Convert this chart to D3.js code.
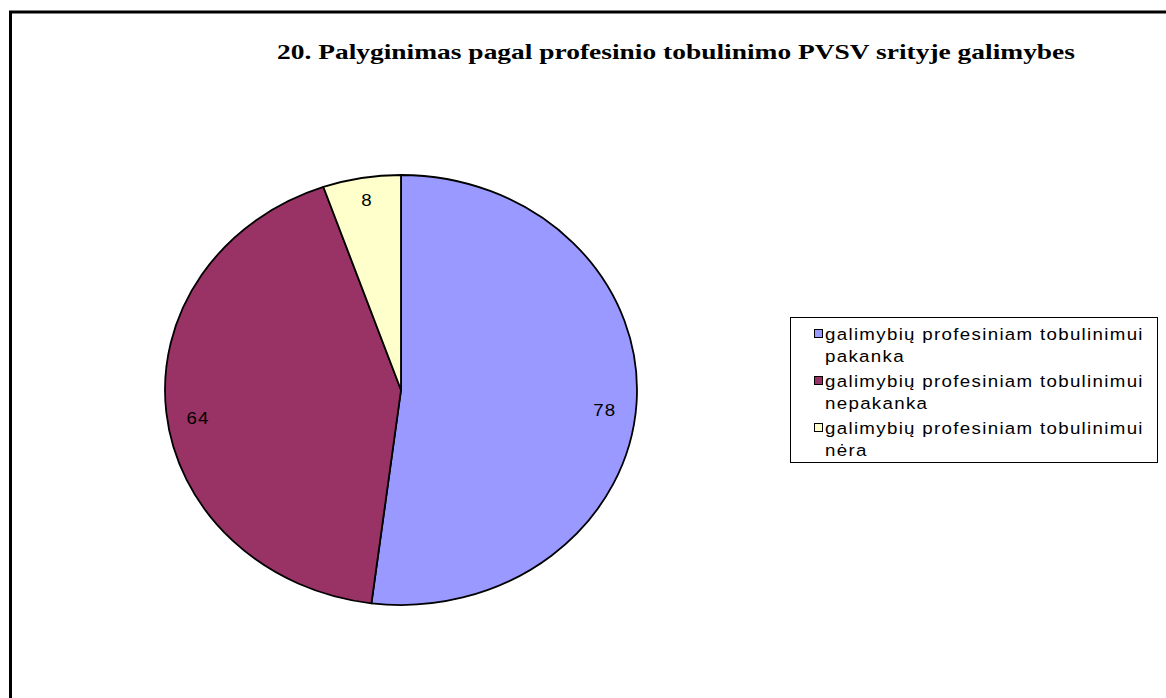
<!DOCTYPE html>
<html>
<head>
<meta charset="utf-8">
<script src="https://d3js.org/d3.v7.min.js"></script>
<style>
  html, body { margin: 0; padding: 0; background: #fff; }
  svg { display: block; }
</style>
</head>
<body>
<div id="chart"></div>
<script>
// chart data
const title = '20. Palyginimas pagal profesinio tobulinimo PVSV srityje galimybes';
const categories = [
    'galimybių profesiniam tobulinimui pakanka',
    'galimybių profesiniam tobulinimui nepakanka',
    'galimybių profesiniam tobulinimui nėra'
];
const values = [78, 64, 8];

const colors = ['#9999ff', '#993366', '#ffffcc'];

const width = 1166, height = 698;

const svg = d3.select('#chart')
    .append('svg')
    .attr('width', width)
    .attr('height', height);

// outer frame (cut off at right and bottom in the original)
svg.append('rect')
    .attr('x', 10.5)
    .attr('y', 12)
    .attr('width', 1400)
    .attr('height', 900)
    .attr('fill', 'none')
    .attr('stroke', '#000')
    .attr('stroke-width', 3);

// title
svg.append('text')
    .attr('x', 277)
    .attr('y', 59)
    .attr('font-family', '"Liberation Serif", "Times New Roman", serif')
    .attr('font-weight', 'bold')
    .attr('font-size', '22px')
    .attr('textLength', 798)
    .attr('lengthAdjust', 'spacingAndGlyphs')
    .attr('fill', '#000')
    .text(title);

// pie: drawn as a circle, stretched horizontally into an ellipse
const cx = 401, cy = 390, rx = 236, ry = 215;

const pie = d3.pie().sort(null).value(d => d);
const arcs = pie(values);
const arc = d3.arc().innerRadius(0).outerRadius(ry);

const pieG = svg.append('g')
    .attr('transform', `translate(${cx},${cy}) scale(${rx / ry},1)`);

pieG.selectAll('path')
    .data(arcs)
    .enter()
    .append('path')
    .attr('d', arc)
    .attr('fill', (d, i) => colors[i])
    .attr('stroke', '#000')
    .attr('stroke-width', 1.8)
    .attr('stroke-linejoin', 'round')
    .attr('vector-effect', 'non-scaling-stroke');

// value labels
const labelFx = 0.865, labelFy = 0.93, labelShift = 7;
svg.selectAll('.val')
    .data(arcs)
    .enter()
    .append('text')
    .attr('class', 'val')
    .attr('transform', d => {
        const a = (d.startAngle + d.endAngle) / 2;
        const x = cx + rx * labelFx * Math.sin(a);
        const y = cy - ry * labelFy * Math.cos(a) + labelShift;
        return `translate(${x},${y}) scale(1.1,1)`;
    })
    .attr('text-anchor', 'middle')
    .attr('dy', '0.35em')
    .attr('font-family', '"Liberation Sans", Arial, sans-serif')
    .attr('font-size', '17px')
    .attr('letter-spacing', '1px')
    .attr('fill', '#000')
    .text(d => d.data);

// legend
const legend = svg.append('g');
legend.append('rect')
    .attr('x', 790.5)
    .attr('y', 317.5)
    .attr('width', 367)
    .attr('height', 145)
    .attr('fill', '#fff')
    .attr('stroke', '#000')
    .attr('stroke-width', 1);

const itemTop = 340, itemStep = 47, lineStep = 22;

const items = legend.selectAll('.item')
    .data(categories)
    .enter()
    .append('g')
    .attr('class', 'item')
    .attr('transform', (d, i) => `translate(0,${itemTop + i * itemStep})`);

items.append('rect')
    .attr('x', 814.5)
    .attr('y', -10.5)
    .attr('width', 8)
    .attr('height', 8)
    .attr('fill', (d, i) => colors[i])
    .attr('stroke', '#000')
    .attr('stroke-width', 1);

items.each(function (d) {
    const cut = d.lastIndexOf(' ');
    const lines = [d.slice(0, cut), d.slice(cut + 1)];
    d3.select(this).selectAll('text')
        .data(lines)
        .enter()
        .append('text')
        .attr('transform', (t, j) => `translate(825,${j * lineStep}) scale(1.1,1)`)
        .attr('font-family', '"Liberation Sans", Arial, sans-serif')
        .attr('font-size', '17px')
        .attr('letter-spacing', '1.2px')
        .attr('fill', '#000')
        .text(t => t);
});
</script>
</body>
</html>
